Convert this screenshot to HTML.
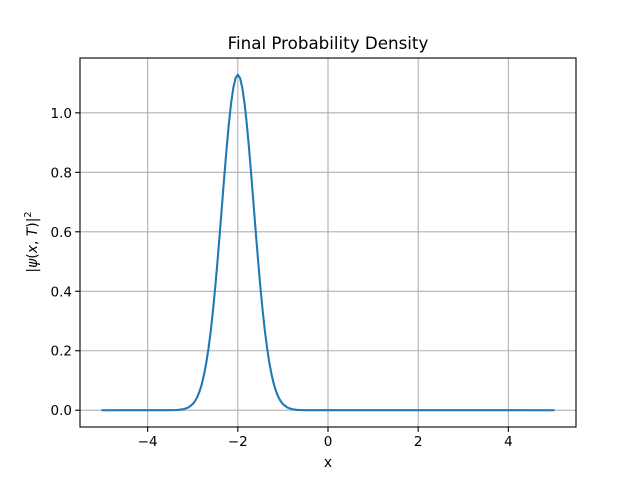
<!DOCTYPE html>
<html><head><meta charset="utf-8"><style>
body{margin:0;background:#fff}
text{font-family:"DejaVu Sans","Liberation Sans",sans-serif;fill:#000}
</style></head><body>
<svg id="chart" width="640" height="480" xmlns="http://www.w3.org/2000/svg">
<rect width="640" height="480" fill="#fff"/>
<g id="grid"></g>
<g id="ticks"></g>
<path id="line" fill="none" stroke="#1f77b4" stroke-width="2.08" stroke-linejoin="round" stroke-linecap="square"/>
<rect x="80" y="58" width="496" height="369" fill="none" stroke="#000" stroke-width="1.1"/>
<text x="328" y="49" font-size="16.7" text-anchor="middle">Final Probability Density</text>
<text x="328" y="467" font-size="13.9" text-anchor="middle">x</text>
<text transform="translate(37,242) rotate(-90)" font-size="13.9" text-anchor="middle">|<tspan font-style="italic">ψ</tspan>(<tspan font-style="italic">x</tspan>, <tspan font-style="italic">T</tspan>)|<tspan font-size="9.7" dy="-6">2</tspan></text>
</svg>
<script>
const xs=[-5,-3.5,-3.4,-3.3,-3.2,-3.1,-3.0,-2.95,-2.9,-2.85,-2.8,-2.75,-2.7,-2.65,-2.6,-2.55,-2.5,-2.45,-2.4,-2.35,-2.3,-2.25,-2.2,-2.15,-2.1,-2.05,-2.0,-1.95,-1.9,-1.85,-1.8,-1.75,-1.7,-1.65,-1.6,-1.55,-1.5,-1.45,-1.4,-1.35,-1.3,-1.25,-1.2,-1.15,-1.1,-1.05,-1.0,-0.9,-0.8,-0.7,-0.6,-0.5,5];
const ys=[0,0.0001,0.0004,0.0013,0.0036,0.0089,0.0207,0.0305,0.0442,0.0627,0.0872,0.119,0.159,0.208,0.267,0.336,0.415,0.502,0.595,0.691,0.787,0.878,0.961,1.031,1.084,1.117,1.128,1.117,1.084,1.031,0.961,0.878,0.787,0.691,0.595,0.502,0.415,0.336,0.267,0.208,0.159,0.119,0.0872,0.0627,0.0442,0.0305,0.0207,0.0089,0.0036,0.0013,0.0004,0.0001,0];
const xTicks=[-4,-2,0,2,4];
const xTickLabels=["−4","−2","0","2","4"];
const yTicks=[0,0.2,0.4,0.6,0.8,1.0];
const yTickLabels=["0.0","0.2","0.4","0.6","0.8","1.0"];
const X0=80,X1=576,Y0=427,Y1=58,xmin=-5.5,xmax=5.5,ymin=-0.0564,ymax=1.1844;
const sx=v=>X0+(v-xmin)/(xmax-xmin)*(X1-X0);
const sy=v=>Y0-(v-ymin)/(ymax-ymin)*(Y0-Y1);
const NS="http://www.w3.org/2000/svg";
const grid=document.getElementById('grid'),ticks=document.getElementById('ticks');
function mk(p,tag,a){const e=document.createElementNS(NS,tag);for(const k in a)e.setAttribute(k,a[k]);p.appendChild(e);return e;}
xTicks.forEach((v,i)=>{const x=sx(v);
 const g=mk(grid,'line',{x1:x,x2:x,y1:Y1,y2:Y0,stroke:'#b0b0b0','stroke-width':1.1});
 
 
 const t=mk(ticks,'line',{x1:x,x2:x,y1:Y0,y2:Y0+4.9,stroke:'#000','stroke-width':1.1});
 
 
 const l=mk(ticks,'text',{x:x,y:Y0+19,'font-size':13.5,'text-anchor':'middle'});l.textContent=xTickLabels[i];
 
 
});
yTicks.forEach((v,i)=>{const y=sy(v);
 const g=mk(grid,'line',{x1:X0,x2:X1,y1:y,y2:y,stroke:'#b0b0b0','stroke-width':1.1});
 
 
 const t=mk(ticks,'line',{x1:X0-4.9,x2:X0,y1:y,y2:y,stroke:'#000','stroke-width':1.1});
 
 
 const l=mk(ticks,'text',{x:X0-8,y:y+5,'font-size':13.5,'text-anchor':'end'});l.textContent=yTickLabels[i];
 
 
});
document.getElementById('line').setAttribute('d',xs.map((v,i)=>(i?'L':'M')+sx(v).toFixed(2)+','+sy(ys[i]).toFixed(2)).join(''));
</script>
</body></html>
